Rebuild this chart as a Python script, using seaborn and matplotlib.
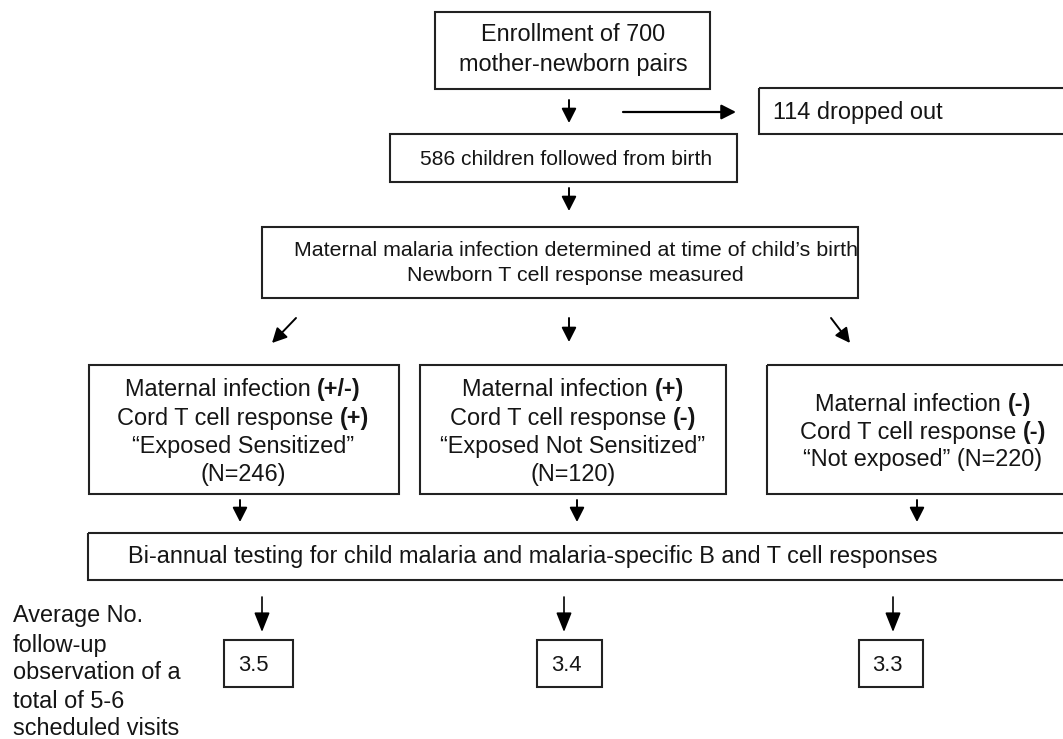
import matplotlib
matplotlib.use("Agg")
import matplotlib.pyplot as plt
from matplotlib.patches import Rectangle, FancyArrowPatch
import seaborn as sns

# numbers in the flow chart
enrolled = 700
dropped_out = 114
followed = 586
group_labels = ["\u201cExposed Sensitized\u201d", "\u201cExposed Not Sensitized\u201d", "\u201cNot exposed\u201d"]
group_n = [246, 120, 220]
maternal_sign = ["+/-", "+", "-"]
cord_sign = ["+", "-", "-"]
avg_visits = [3.5, 3.4, 3.3]
visit_note = ["Average No.", "follow-up", "observation of a", "total of 5-6", "scheduled visits"]

W, H = 1063, 739
sns.set_theme(style="white")
plt.rcParams['font.family'] = ['Liberation Sans', 'DejaVu Sans']

fig = plt.figure(figsize=(W / 100, H / 100), dpi=100)
ax = fig.add_axes([0, 0, 1, 1])
ax.set_xlim(0, W)
ax.set_ylim(H, 0)
ax.axis('off')

BIG = 23.5 * 0.72
SMALL = 21 * 0.72
INK = '#151515'
renderer = fig.canvas.get_renderer()


def box(x0, y0, x1, y1):
    ax.add_patch(Rectangle((x0, y0), x1 - x0, y1 - y0, fill=False, lw=1.5, ec='#222222'))


def arrow(x0, y0, x1, y1, lw=1.4, ms=16, hl=0.55, hw=0.28):
    ax.add_patch(FancyArrowPatch((x0, y0), (x1, y1),
                                 arrowstyle=f'-|>,head_length={hl},head_width={hw}',
                                 mutation_scale=ms, lw=lw, color='black',
                                 shrinkA=0, shrinkB=0))


def width_of(s, size, weight='normal'):
    t = ax.text(0, 0, s, fontsize=size, fontweight=weight)
    w = t.get_window_extent(renderer).width
    t.remove()
    return w


def line(x, y, parts, size=BIG, ha='center'):
    # parts: list of (text, bold); y is the visual middle of the line
    gap = width_of('x x', size) - width_of('xx', size)
    widths = [width_of(s, size, 'bold' if b else 'normal') for s, b in parts]
    total = sum(widths) + gap * (len(parts) - 1)
    cur = x - total / 2 if ha == 'center' else x
    base = y + 0.36 * size / 0.72
    for (s, b), w in zip(parts, widths):
        ax.text(cur, base, s, fontsize=size, fontweight='bold' if b else 'normal',
                ha='left', va='baseline', color=INK)
        cur += w + gap


# enrollment
box(435, 12, 710, 89)
line(573, 33, [(f"Enrollment of {enrolled}", False)])
line(573, 63, [("mother-newborn pairs", False)])
arrow(569, 100, 569, 123)
arrow(623, 112, 736, 112, lw=1.6)

box(759, 88, 1070, 134)
line(773, 111, [(f"{dropped_out} dropped out", False)], ha='left')

box(390, 134, 737, 182)
line(566, 157, [(f"{followed} children followed from birth", False)], size=SMALL)
arrow(569, 188, 569, 211)

# maternal infection box
box(262, 227, 858, 298)
line(294, 248, [("Maternal malaria infection determined at time of child\u2019s birth", False)],
     size=21.4 * 0.72, ha='left')
line(575, 273, [("Newborn T cell response measured", False)], size=21.4 * 0.72)
arrow(296, 318, 272, 343)
arrow(569, 318, 569, 342)
arrow(831, 318, 850, 343)

# three groups
group_boxes = [(89, 365, 399, 494), (420, 365, 726, 494), (767, 365, 1070, 494)]
group_cx = [243, 573, 923]
for i in range(3):
    box(*group_boxes[i])
    cx = group_cx[i]
    if i < 2:
        ys = [388, 417, 445, 473]
        line(cx, ys[0], [("Maternal infection", False), (f"({maternal_sign[i]})", True)])
        line(cx, ys[1], [("Cord T cell response", False), (f"({cord_sign[i]})", True)])
        line(cx, ys[2], [(group_labels[i], False)])
        line(cx, ys[3], [(f"(N={group_n[i]})", False)])
    else:
        ys = [403, 431, 458]
        line(cx, ys[0], [("Maternal infection", False), (f"({maternal_sign[i]})", True)])
        line(cx, ys[1], [("Cord T cell response", False), (f"({cord_sign[i]})", True)])
        line(cx, ys[2], [(f"{group_labels[i]} (N={group_n[i]})", False)])

for x in [240, 577, 917]:
    arrow(x, 500, x, 522)

# follow-up testing
box(88, 533, 1070, 580)
line(128, 555, [("Bi-annual testing for child malaria and malaria-specific B and T cell responses", False)],
     ha='left')

arrow_x = [262, 564, 893]
visit_boxes = [(224, 640, 293, 687), (537, 640, 602, 687), (859, 640, 923, 687)]
visit_tx = [238, 551, 872]
for i in range(3):
    arrow(arrow_x[i], 597, arrow_x[i], 632, lw=1.2, ms=17, hl=0.7, hw=0.28)
    box(*visit_boxes[i])
    line(visit_tx[i], 663, [(f"{avg_visits[i]:.1f}", False)], size=22 * 0.72, ha='left')

for k, s in enumerate(visit_note):
    line(13, [614, 644, 671, 700, 727][k], [(s, False)], ha='left')

fig.savefig('out.png', dpi=100, facecolor='white')
